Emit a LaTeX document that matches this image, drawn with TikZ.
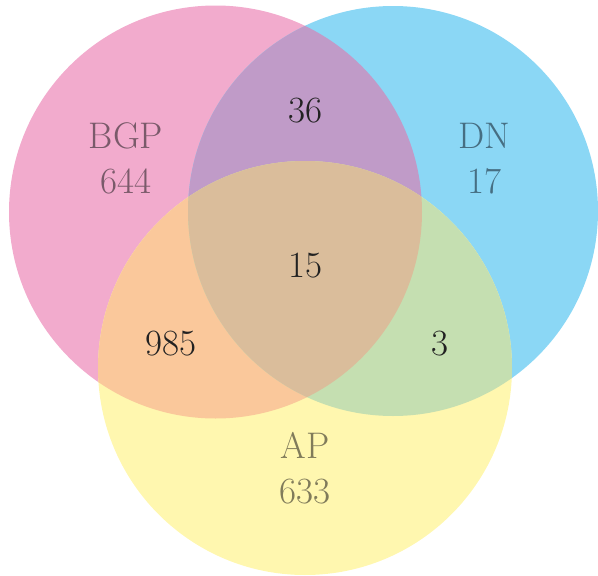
\documentclass[tikz,border=0pt]{standalone}
\usepackage{fontspec}
\definecolor{cP}{HTML}{F2ABCD}
\definecolor{cB}{HTML}{8BD7F5}
\definecolor{cY}{HTML}{FFF7AF}
\definecolor{cPB}{HTML}{C09BC8}
\definecolor{cPY}{HTML}{FAC89B}
\definecolor{cBY}{HTML}{C5DFB1}
\definecolor{cPBY}{HTML}{DABD9B}
\definecolor{tP}{HTML}{7A5A6A}
\definecolor{tB}{HTML}{466E82}
\definecolor{tY}{HTML}{807B5A}
\definecolor{tN}{HTML}{222222}
\begin{document}
\begin{tikzpicture}[x=1pt,y=-1pt,
  lab/.style={anchor=base,inner sep=0pt,font=\fontsize{37}{44}\selectfont},
  every node/.style={lab}]
\useasboundingbox (0,0) rectangle (598,576);
\def\cP{(215.5,212) circle[radius=206.5]}
\def\cB{(393,211) circle[radius=205]}
\def\cY{(305,368) circle[radius=207]}
\fill[cP] \cP;
\fill[cB] \cB;
\fill[cY] \cY;
\begin{scope}
  \clip \cP;
  \fill[cPB] \cB;
  \fill[cPY] \cY;
\end{scope}
\begin{scope}
  \clip \cB;
  \fill[cBY] \cY;
\end{scope}
\begin{scope}
  \clip \cP;
  \clip \cB;
  \fill[cPBY] \cY;
\end{scope}
\node[text=tP] (bgp) at (126,148) {BGP};
\node[text=tP] (nbgp) at (126,193) {644};
\node[text=tB] (dn) at (484,148) {DN};
\node[text=tB] (ndn) at (484,193) {17};
\node[text=tY] (ap) at (305,458) {AP};
\node[text=tY] (nap) at (305,503) {633};
\node[text=tN] (pb) at (305,122) {36};
\node[text=tN] (pby) at (305,277) {15};
\node[text=tN] (py) at (171,355) {985};
\node[text=tN] (by) at (439.5,355) {3};
\end{tikzpicture}
\end{document}
